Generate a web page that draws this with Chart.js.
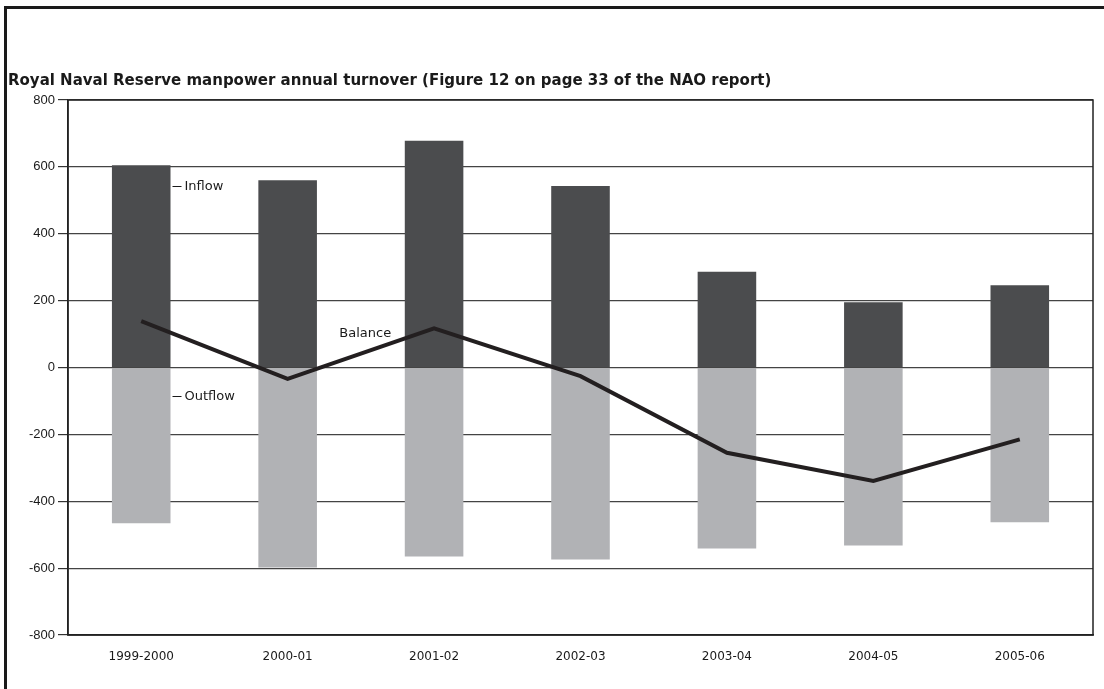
<!DOCTYPE html>
<html>
<head>
<meta charset="utf-8">
<script src="https://cdn.jsdelivr.net/npm/chart.js@4/dist/chart.umd.min.js"></script>
<style>
  html, body { margin: 0; padding: 0; background: #fff; }
  #wrap { width: 1104px; height: 689px; position: relative; }
</style>
</head>
<body>
<div id="wrap"><canvas id="turnover" width="1104" height="689"></canvas></div>
<script>
// data
var years = ['1999-2000', '2000-01', '2001-02', '2002-03', '2003-04', '2004-05', '2005-06'];
var inflow = [605, 560, 678, 543, 286, 195, 246];
var outflow = [-466, -598, -565, -574, -541, -532, -463];
var balance = [139, -34, 117, -26, -255, -339, -215];
var yMin = -800, yMax = 800, yStep = 200;

var titleText = 'Royal Naval Reserve manpower annual turnover (Figure 12 on page 33 of the NAO report)';

// frame, title, plot box and the little series labels
var extras = {
    id: 'extras',
    beforeDraw: function (chart) {
        var c = chart.ctx;
        c.save();
        c.strokeStyle = '#1a1a1a';
        c.lineWidth = 3;
        c.beginPath();
        c.moveTo(5.5, 689);
        c.lineTo(5.5, 7.5);
        c.lineTo(1104, 7.5);
        c.stroke();
        c.fillStyle = '#1a1a1a';
        c.font = 'bold 15px "DejaVu Sans"';
        c.textBaseline = 'middle';
        c.fillText(titleText, 8, 81);
        c.restore();
    },
    afterDraw: function (chart) {
        var c = chart.ctx, a = chart.chartArea;
        var xs = chart.scales.x, ys = chart.scales.y;
        c.save();
        c.strokeStyle = '#222';
        c.lineWidth = 1.5;
        c.strokeRect(a.left, a.top, a.right - a.left, a.bottom - a.top);

        var half = chart.getDatasetMeta(1).data[0].width / 2;
        var x0 = xs.getPixelForValue(0) + half;
        c.font = '13px "DejaVu Sans"';
        c.fillStyle = '#1a1a1a';
        c.textBaseline = 'middle';
        c.lineWidth = 1;
        c.strokeStyle = '#1a1a1a';
        [['Inflow', 543], ['Outflow', -84]].forEach(function (t) {
            var y = Math.round(ys.getPixelForValue(t[1])) + 0.5;
            c.beginPath();
            c.moveTo(x0 + 2, y);
            c.lineTo(x0 + 11, y);
            c.stroke();
            c.fillText(t[0], x0 + 14, y);
        });
        var bx = xs.getPixelForValue(1) + (xs.getPixelForValue(2) - xs.getPixelForValue(1)) * 0.53;
        c.textAlign = 'center';
        c.fillText('Balance', bx, ys.getPixelForValue(102));
        c.restore();
    }
};

new Chart(document.getElementById('turnover'), {
    type: 'bar',
    data: {
        labels: years,
        datasets: [
            {
                type: 'line',
                label: 'Balance',
                data: balance,
                borderColor: '#231f20',
                borderWidth: 4,
                pointRadius: 0,
                tension: 0,
                stack: 'balance',
                order: 0
            },
            {
                label: 'Inflow',
                data: inflow,
                backgroundColor: '#4b4c4e',
                stack: 'flow',
                order: 1
            },
            {
                label: 'Outflow',
                data: outflow,
                backgroundColor: '#b1b2b5',
                stack: 'flow',
                order: 1
            }
        ]
    },
    options: {
        responsive: false,
        animation: false,
        layout: { padding: { top: 100, right: 11, bottom: 0, left: 0 } },
        datasets: {
            bar: { barPercentage: 0.4, categoryPercentage: 1 }
        },
        plugins: {
            legend: { display: false },
            tooltip: { enabled: false }
        },
        scales: {
            x: {
                stacked: true,
                grid: { display: false, drawTicks: false },
                border: { color: '#222', width: 1.5 },
                ticks: { color: '#1a1a1a', padding: 15, font: { family: 'DejaVu Sans', size: 12 }, maxRotation: 0 },
                afterFit: function (s) { s.height = 54; }
            },
            y: {
                stacked: true,
                min: yMin,
                max: yMax,
                ticks: { stepSize: yStep, color: '#1a1a1a', padding: 3, font: { family: 'Liberation Sans', size: 13 } },
                grid: { color: '#444', lineWidth: 1.2, tickLength: 10, tickColor: '#333' },
                border: { color: '#222', width: 1.5 },
                afterFit: function (s) { s.width = 68; }
            }
        }
    },
    plugins: [extras]
});
</script>
</body>
</html>
